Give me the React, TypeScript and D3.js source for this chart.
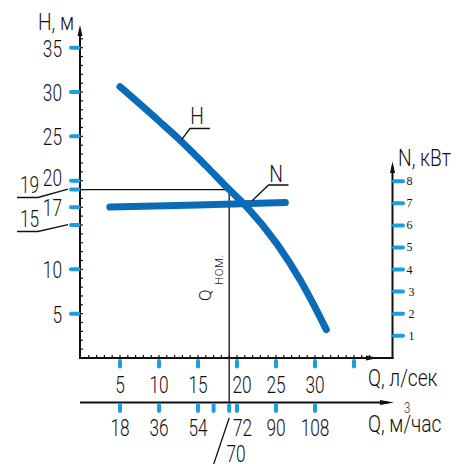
import React from "react";
import * as d3 from "d3";

// ---- data ----
const H_TICKS = [5, 10, 15, 17, 19, 20, 25, 30, 35];
const H_PLAIN_LABELS = [5, 10, 17, 20, 25, 30, 35];
const H_LEADER_LABELS = [19, 15];
const N_TICKS = [1, 2, 3, 4, 5, 6, 7, 8];
const Q_LS_TICKS = [5, 10, 15, 20, 25, 30, 35];
const Q_LS_LABELS = ["5", "10", "15", "20", "25", "30", ""];
const Q_M3H_TICKS = [18, 36, 54, 61.2, 68.4, 72, 90, 108];
const Q_M3H_LABELS = ["18", "36", "54", "", "", "72", "90", "108"];
const H_CURVE_Q = [5.0, 10.1, 12.9, 16, 19, 21.3, 25.1, 28.1, 30.6, 31.45];
const H_CURVE_H = [30.6, 26.65, 24.4, 21.7, 19.0, 17.0, 12.9, 8.8, 4.7, 3.2];
const N_CURVE_Q = [3.7, 15, 26.2];
const N_CURVE_N = [6.83, 6.93, 7.04];
const Q_NOM = 19; // л/сек
const H_NOM = 19; // м
const Q_NOM_M3H_LABEL = "70";

const BLUE = "#0b6bb7";
const TICK_BLUE = "#1b9de2";
const FONT = "Roboto, 'Liberation Sans', sans-serif";

const x = d3.scaleLinear().domain([0, 40]).range([81, 393]);
const xM = d3.scaleLinear().domain([0, 144]).range([81, 393]);
const yH = d3.scaleLinear().domain([0, 35]).range([358, 47.7]);
const yN = d3.scaleLinear().domain([0, 8]).range([357.8, 181.3]);

const AX_Y = 358;
const AX2_Y = 402.5;
const LEFT_X = 80;
const RIGHT_X = 392.5;

function T({ x, y, anchor = "middle", size = 24, sx = 0.72, children }: any) {
  return (
    <text
      transform={`translate(${x},${y}) scale(${sx},1)`}
      textAnchor={anchor}
      fontSize={size}
      fontFamily={FONT}
      fontWeight={300}
      fill="#111"
    >
      {children}
    </text>
  );
}

export default function App() {
  const hPts = H_CURVE_Q.map((q, i) => [q, H_CURVE_H[i]] as [number, number]);
  const nPts = N_CURVE_Q.map((q, i) => [q, N_CURVE_N[i]] as [number, number]);
  const hLine = d3
    .line<[number, number]>()
    .x((d) => x(d[0]))
    .y((d) => yH(d[1]))
    .curve(d3.curveMonotoneX)(hPts) as string;
  const nLine = d3
    .line<[number, number]>()
    .x((d) => x(d[0]))
    .y((d) => yN(d[1]))
    .curve(d3.curveMonotoneX)(nPts) as string;

  const minorH = d3.range(1, 37);
  const minorQ = d3.range(1, 38);
  const qn = x(Q_NOM);
  const hn = yH(H_NOM);

  const hLab = [12.9, 24.4];
  const nLabQ = 22.2;
  const nLabY = yN(6.98);

  return (
    <svg width={462} height={464} style={{ position: "absolute", left: 0, top: 0 }}>
      <rect width={462} height={464} fill="#fff" />
      {/* reference lines */}
      <line x1={LEFT_X} x2={qn} y1={hn} y2={hn} stroke="#111" strokeWidth={1.3} />
      <line x1={qn} x2={qn} y1={hn} y2={AX2_Y} stroke="#111" strokeWidth={1.3} />
      <line x1={qn} x2={qn - 15.5} y1={418} y2={464} stroke="#111" strokeWidth={1.3} />

      {/* axes */}
      <line x1={LEFT_X} x2={LEFT_X} y1={30} y2={AX_Y + 1} stroke="#111" strokeWidth={2} />
      <path d={`M${LEFT_X},25 L${LEFT_X - 2.5},36 L${LEFT_X + 2.5},36 Z`} fill="#111" />
      <line x1={LEFT_X - 1} x2={RIGHT_X + 1} y1={AX_Y} y2={AX_Y} stroke="#111" strokeWidth={2} />
      <path d={`M378,${AX_Y} L366,${AX_Y - 2.5} L366,${AX_Y + 2.5} Z`} fill="#111" />
      <line x1={RIGHT_X} x2={RIGHT_X} y1={166} y2={AX_Y + 1} stroke="#111" strokeWidth={2} />
      <path d={`M${RIGHT_X},161.5 L${RIGHT_X - 2.5},173 L${RIGHT_X + 2.5},173 Z`} fill="#111" />
      <line x1={LEFT_X} x2={388} y1={AX2_Y} y2={AX2_Y} stroke="#111" strokeWidth={2} />
      <path d={`M394,${AX2_Y} L380,${AX2_Y - 2.5} L380,${AX2_Y + 2.5} Z`} fill="#111" />

      {/* minor ticks */}
      {minorH.map((h) => (
        <line key={"mh" + h} x1={LEFT_X} x2={LEFT_X + 3} y1={yH(h)} y2={yH(h)} stroke="#111" strokeWidth={1.2} />
      ))}
      {minorQ.map((q) => (
        <line key={"mq" + q} x1={x(q)} x2={x(q)} y1={AX_Y - 3} y2={AX_Y} stroke="#111" strokeWidth={1.2} />
      ))}

      {/* blue ticks */}
      {H_TICKS.map((h) => (
        <line key={"th" + h} x1={71} x2={78.5} y1={yH(h)} y2={yH(h)} stroke={TICK_BLUE} strokeWidth={4} strokeLinecap="round" />
      ))}
      {N_TICKS.map((n) => (
        <line key={"tn" + n} x1={394} x2={403} y1={yN(n)} y2={yN(n)} stroke={TICK_BLUE} strokeWidth={4} strokeLinecap="round" />
      ))}
      {Q_LS_TICKS.map((q) => (
        <line key={"tq" + q} x1={x(q)} x2={x(q)} y1={361} y2={366.5} stroke={TICK_BLUE} strokeWidth={4} strokeLinecap="round" />
      ))}
      {Q_M3H_TICKS.map((m) => (
        <line key={"tm" + m} x1={xM(m)} x2={xM(m)} y1={405} y2={411} stroke={TICK_BLUE} strokeWidth={4} strokeLinecap="round" />
      ))}

      {/* H labels */}
      {H_PLAIN_LABELS.map((h) => (
        <T key={"lh" + h} x={62} y={yH(h) + (h === 20 ? 5 : 9)} anchor="end">
          {h}
        </T>
      ))}
      {H_LEADER_LABELS.map((h, i) => {
        const ty = i === 0 ? 192.5 : 227;
        const ly = i === 0 ? 197.5 : 231.5;
        return (
          <g key={"ll" + h}>
            <T x={20} y={ty} anchor="start">
              {h}
            </T>
            <polyline points={`17,${ly} 38,${ly} 68,${yH(h) - 0.5}`} fill="none" stroke="#111" strokeWidth={1.3} />
          </g>
        );
      })}

      {/* N labels */}
      {N_TICKS.map((n) => (
        <text key={"ln" + n} x={n <= 3 ? 408.5 : 406.5} y={yN(n) + 4} fontSize={12} fontFamily="'Liberation Serif', serif" fill="#111">
          {n}
        </text>
      ))}

      {/* Q labels */}
      {Q_LS_TICKS.map((q, i) => (
        <T key={"lq" + q} x={x(q) + (q === 20 ? 5 : 0)} y={393}>
          {Q_LS_LABELS[i]}
        </T>
      ))}
      {Q_M3H_TICKS.map((m, i) => (
        <T key={"lm" + m} x={xM(m) + (m === 72 ? 5.5 : 0)} y={436}>
          {Q_M3H_LABELS[i]}
        </T>
      ))}
      <T x={236} y={462}>
        {Q_NOM_M3H_LABEL}
      </T>

      {/* axis titles */}
      <T x={38} y={30} anchor="start" sx={0.8}>
        H, м
      </T>
      <T x={398} y={166} anchor="start" sx={0.8}>
        N, кВт
      </T>
      <T x={368} y={385.5} anchor="start" sx={0.8}>
        Q, л/сек
      </T>
      <T x={368} y={432} anchor="start" sx={0.8}>
        Q, м/час
      </T>
      <T x={404} y={413} anchor="start" size={14} sx={0.8}>
        3
      </T>

      {/* Q nom label */}
      <g transform={`translate(211,301) rotate(-90)`}>
        <text fontSize={17} fontFamily={FONT} fontWeight={300} fill="#111">
          Q
        </text>
      </g>
      <g transform={`translate(222.5,285) rotate(-90)`}>
        <text fontSize={11.5} fontFamily={FONT} fontWeight={300} fill="#111" letterSpacing={0.5}>
          НОМ.
        </text>
      </g>

      {/* curves */}
      <path d={hLine} fill="none" stroke={BLUE} strokeWidth={7} strokeLinecap="round" />
      <path d={nLine} fill="none" stroke={BLUE} strokeWidth={7} strokeLinecap="round" />

      {/* curve labels */}
      <polyline points={`${x(hLab[0])},${yH(hLab[1]) - 2} 190,128.5 210,128.5`} fill="none" stroke="#111" strokeWidth={1.3} />
      <T x={197} y={123.5} sx={0.8}>
        H
      </T>
      <polyline points={`${x(nLabQ) - 2},${nLabY - 3} 268.5,185 288.5,185`} fill="none" stroke="#111" strokeWidth={1.3} />
      <T x={276} y={182} sx={0.8}>
        N
      </T>
    </svg>
  );
}
